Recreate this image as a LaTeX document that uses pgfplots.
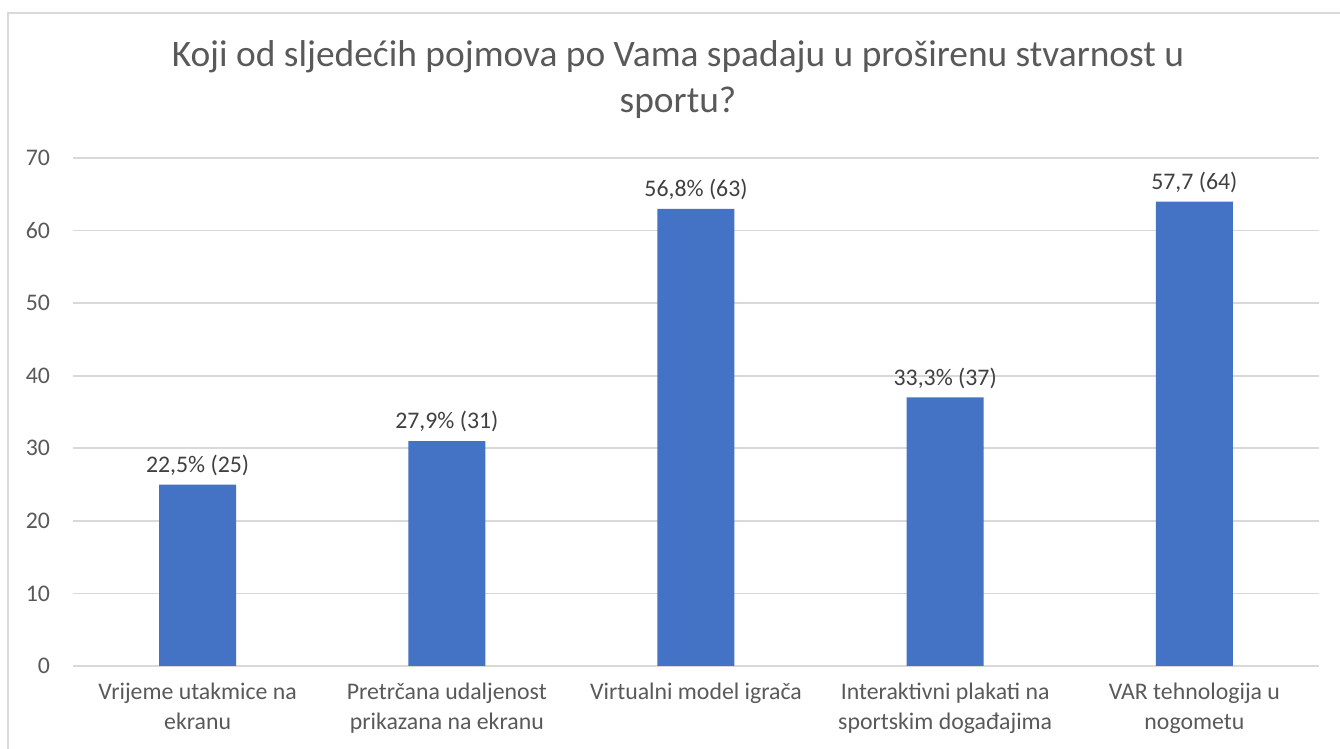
\documentclass[border=0pt]{standalone}
\usepackage{pgfplots}
\usepackage{pgfplotstable}
\pgfplotsset{compat=1.18}
\usepackage{fontspec}
\setmainfont{Carlito}
\definecolor{barblue}{HTML}{4472C4}
\definecolor{gridgray}{HTML}{D9D9D9}
\definecolor{txtgray}{HTML}{595959}
\definecolor{lblgray}{HTML}{404040}

\pgfplotstableread[col sep=semicolon]{
x;y;lab
0;25;22,5\% (25)
1;31;27,9\% (31)
2;63;56,8\% (63)
3;37;33,3\% (37)
4;64;57,7 (64)
}\answers

\begin{document}
\begin{tikzpicture}
\path[use as bounding box] (0,0) rectangle (670pt,374.5pt);
\draw[gridgray, line width=0.8pt] (4pt,0) -- (4pt,368pt) -- (670pt,368pt);
\node[anchor=base, text=txtgray, font=\fontsize{18.7}{22}\selectfont] at (339pt,341pt)
  {Koji od sljedećih pojmova po Vama spadaju u proširenu stvarnost u};
\node[anchor=base, text=txtgray, font=\fontsize{18.7}{22}\selectfont] at (339pt,318pt)
  {sportu?};
\begin{axis}[
  at={(36.5pt,41.5pt)}, anchor=south west,
  scale only axis,
  width=623pt, height=254pt,
  xmin=-0.5, xmax=4.5,
  ymin=0, ymax=70,
  ytick={0,10,...,70},
  xtick={0,1,2,3,4},
  xticklabels={{Vrijeme utakmice na\\ekranu},{Pretrčana udaljenost\\prikazana na ekranu},{Virtualni model igrača},{Interaktivni plakati na\\sportskim događajima},{VAR tehnologija u\\nogometu}},
  axis x line*=bottom,
  axis y line*=left,
  y axis line style={draw=none},
  x axis line style={gridgray, line width=0.8pt, -},
  ymajorgrids,
  grid style={gridgray, line width=0.8pt},
  major tick length=0pt,
  tick label style={font=\fontsize{11.9}{14.8}\selectfont, text=txtgray},
  /pgf/number format/assume math mode=true,
  yticklabel style={anchor=east, xshift=-8pt},
  xticklabel style={align=center, anchor=north, yshift=-5pt},
  clip=false,
]
\addplot[ybar, bar width=38.5pt, fill=barblue, draw=none,
  point meta=explicit symbolic,
  nodes near coords,
  every node near coord/.style={font=\fontsize{11.9}{14}\selectfont, text=lblgray, anchor=south, yshift=1pt}]
  table[x=x, y=y, meta=lab] {\answers};
\end{axis}
\end{tikzpicture}
\end{document}
